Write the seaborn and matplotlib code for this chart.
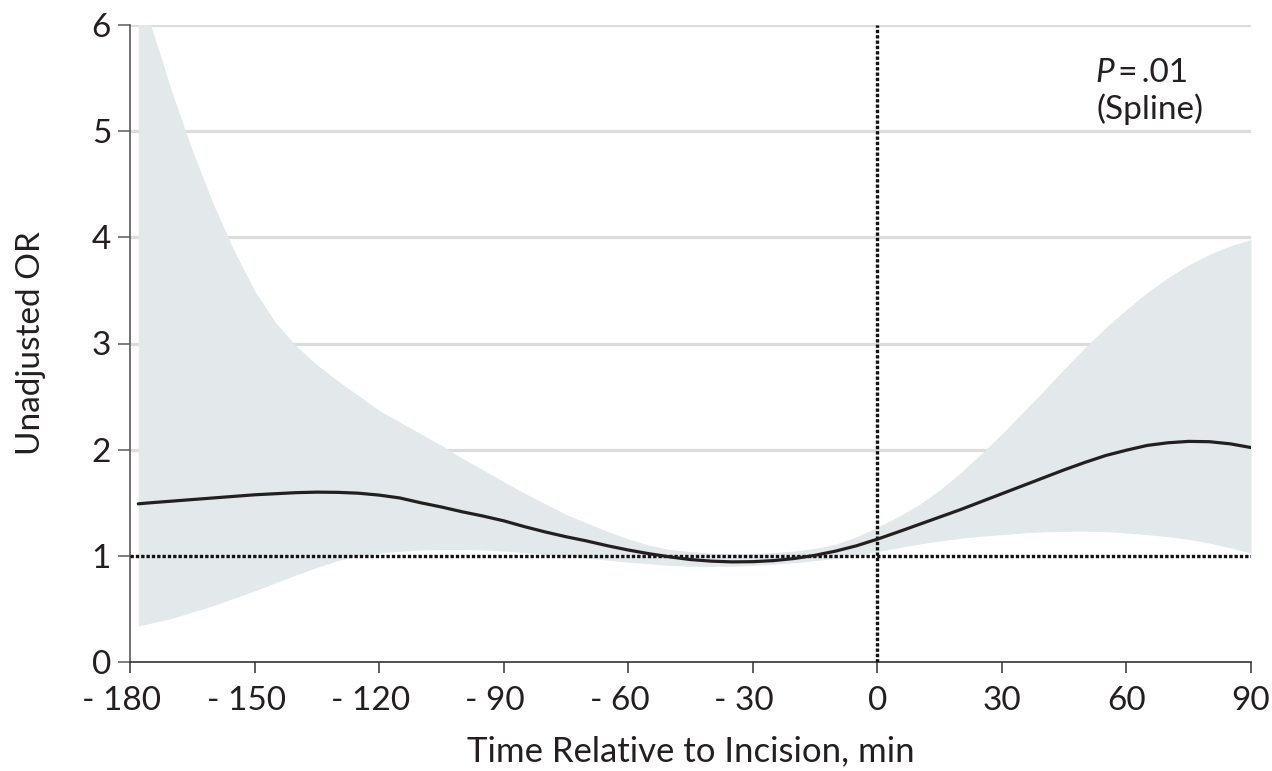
import matplotlib
matplotlib.use("Agg")
import matplotlib.pyplot as plt
import seaborn as sns
import pandas as pd

# ---- data ----
time_min = [-178, -175, -170, -165, -160, -155, -150, -145, -140, -135, -130,
            -125, -120, -115, -110, -105, -100, -95, -90, -85, -80, -75, -70,
            -65, -60, -55, -50, -45, -40, -35, -30, -25, -20, -15, -10, -5,
            0, 5, 10, 15, 20, 25, 30, 35, 40, 45, 50, 55, 60, 65, 70, 75, 80, 85, 90]
or_mean = [1.49, 1.50, 1.515, 1.53, 1.545, 1.56, 1.575, 1.585, 1.595, 1.60, 1.598,
           1.59, 1.572, 1.545, 1.50, 1.46, 1.415, 1.375, 1.33, 1.275, 1.225, 1.18, 1.14,
           1.095, 1.055, 1.02, 0.99, 0.965, 0.95, 0.943, 0.945, 0.955, 0.975, 1.005, 1.045, 1.095,
           1.157, 1.225, 1.295, 1.365, 1.435, 1.51, 1.585, 1.66, 1.735, 1.81, 1.88, 1.945,
           1.995, 2.04, 2.065, 2.078, 2.075, 2.055, 2.02]
or_upper = [6.40, 6.00, 5.38, 4.82, 4.32, 3.88, 3.50, 3.20, 2.98, 2.80, 2.65,
            2.51, 2.37, 2.26, 2.15, 2.04, 1.92, 1.81, 1.70, 1.59, 1.49, 1.39, 1.31,
            1.23, 1.16, 1.10, 1.06, 1.04, 1.025, 1.02, 1.022, 1.03, 1.045, 1.07, 1.11, 1.18,
            1.27, 1.37, 1.48, 1.62, 1.78, 1.96, 2.15, 2.35, 2.55, 2.76, 2.96, 3.15,
            3.32, 3.48, 3.62, 3.74, 3.84, 3.92, 3.98]
or_lower = [0.34, 0.365, 0.41, 0.47, 0.53, 0.60, 0.67, 0.745, 0.82, 0.89, 0.955,
            1.0, 1.025, 1.042, 1.055, 1.06, 1.06, 1.055, 1.045, 1.03, 1.015, 1.0, 0.98,
            0.96, 0.94, 0.925, 0.91, 0.902, 0.90, 0.902, 0.91, 0.92, 0.935, 0.955, 0.975, 1.005,
            1.04, 1.075, 1.11, 1.14, 1.165, 1.185, 1.20, 1.215, 1.225, 1.23, 1.232, 1.228,
            1.215, 1.20, 1.18, 1.155, 1.12, 1.075, 1.025]

x_ticks = [-180, -150, -120, -90, -60, -30, 0, 30, 60, 90]
x_tick_labels = ["- 180  ", "- 150  ", "- 120  ", "- 90  ", "- 60  ", "- 30  ",
                 "0", "30", "60", "90"]
y_ticks = [0, 1, 2, 3, 4, 5, 6]
grid_levels = [2, 3, 4, 5, 6]
reference_or = 1
incision_time = 0

df = pd.DataFrame({"time": time_min, "mean": or_mean,
                   "lower": or_lower, "upper": or_upper})

sns.set_theme(style="white")
plt.rcParams["font.family"] = ["Lato", "DejaVu Sans"]

fig = plt.figure(figsize=(12.72, 7.71), dpi=100)
ax = fig.add_axes([130 / 1272, 1 - 662 / 771, 1121 / 1272, 637 / 771])

ink = "#231f20"
fs = 24

# gridlines
ax.hlines(grid_levels, x_ticks[0], x_ticks[-1], color="#dcdcdc", lw=2.3, zorder=0)

# confidence band
ax.fill_between(df["time"], df["lower"], df["upper"], color="#e3e8ea",
                lw=0, zorder=1)

# reference lines
dot = (0, (1.0, 0.6))
ax.axhline(reference_or, color="#111111", lw=2.4, ls=dot, zorder=3)
ax.axvline(incision_time, color="#111111", lw=2.4, ls=dot, zorder=3)

# spline estimate
sns.lineplot(data=df, x="time", y="mean", color=ink, lw=2.3, ax=ax, zorder=4)

ax.set_xlim(x_ticks[0], x_ticks[-1])
ax.set_ylim(y_ticks[0], y_ticks[-1])
ax.set_xticks(x_ticks)
ax.set_xticklabels(x_tick_labels)
ax.set_yticks(y_ticks)

for side in ["top", "right"]:
    ax.spines[side].set_visible(False)
ax.spines["left"].set_color("#5a5a5a")
ax.spines["bottom"].set_color("#333333")
ax.spines["left"].set_linewidth(1.2)
ax.spines["bottom"].set_linewidth(1.2)

ax.tick_params(axis="y", direction="out", length=8.6, width=1.1, color="#5a5a5a",
               labelsize=fs, labelcolor=ink, pad=5, left=True)
ax.tick_params(axis="x", direction="out", length=8, width=1.1, color="#333333",
               labelsize=fs, labelcolor=ink, pad=9, bottom=True)

ax.set_xlabel("Time Relative to Incision, min", fontsize=fs + 1, color=ink, labelpad=14)
ax.set_ylabel("Unadjusted OR", fontsize=fs, color=ink)
ax.yaxis.set_label_coords(-0.075, 0.5)

# P-value annotation
tp = ax.text(52.4, 5.46, "P", fontsize=fs, fontstyle="italic", color=ink,
             va="baseline", ha="left")
ax.annotate("\u2009=\u2009.01", xy=(1, 0), xycoords=tp, va="bottom", ha="left",
            fontsize=fs, color=ink)
ax.text(52.9, 5.11, "(Spline)", fontsize=fs, color=ink, va="baseline", ha="left")

fig.savefig("out.png", dpi=100)
